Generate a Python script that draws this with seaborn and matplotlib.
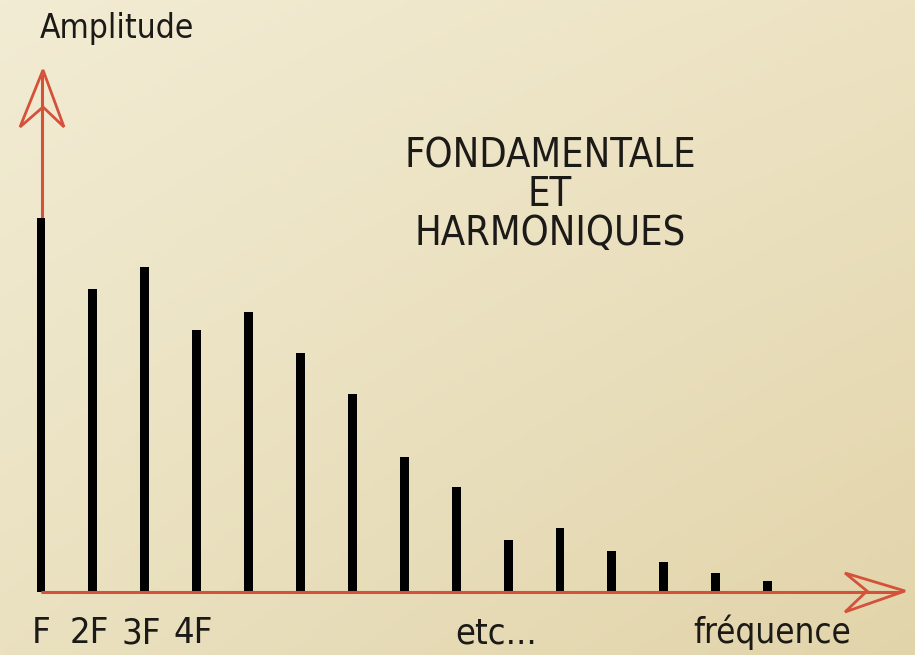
import numpy as np
import matplotlib
matplotlib.use('Agg')
import matplotlib.pyplot as plt
import matplotlib.patches as mpatches
import seaborn as sns

# Données : fondamentale et harmoniques (amplitude relative, F = 100)
harmoniques = ['F', '2F', '3F', '4F', '5F', '6F', '7F', '8F', '9F', '10F',
               '11F', '12F', '13F', '14F', '15F']
amplitude = [100, 81, 87, 70, 75, 64, 53, 36, 28, 14, 17, 11, 8, 5, 3]
etiquettes = ['F', '2F', '3F', '4F']

ROUGE = '#d4513a'
ENCRE = '#1b1a17'
W, H = 915, 655

# Echelles : 1 harmonique = 51.9 px, 100 d'amplitude = 374 px, base à y=592 px
pas_x = 51.9
pas_y = 3.74
x0 = -41 / pas_x
x1 = (W - 41) / pas_x
y0 = -(H - 592) / pas_y
y1 = 592 / pas_y


def px(x, y):
    # convertir une position en pixels (image) en coordonnées de données
    return (x0 + x / W * (x1 - x0), y1 - y / H * (y1 - y0))


fig = plt.figure(figsize=(9.15, 6.55), dpi=100)
ax = fig.add_axes([0, 0, 1, 1])

# fond papier jauni (ligne 0 = haut de l'image)
u = np.linspace(0, 1, 200)
v = np.linspace(0, 1, 200)
U, V = np.meshgrid(u, v)
tl = np.array([242, 236, 212]) / 255
tr = np.array([237, 227, 195]) / 255
bl = np.array([234, 225, 192]) / 255
br = np.array([226, 212, 170]) / 255
fond = ((1 - U)[..., None] * (1 - V)[..., None] * tl + U[..., None] * (1 - V)[..., None] * tr
        + (1 - U)[..., None] * V[..., None] * bl + U[..., None] * V[..., None] * br)
ax.imshow(fond, extent=[0, 1, 0, 1], transform=ax.transAxes, aspect='auto', zorder=0)

sns.barplot(x=harmoniques, y=amplitude, color='black', saturation=1,
            width=0.17, ax=ax, zorder=2)

ax.set_xlim(x0, x1)
ax.set_ylim(y0, y1)
ax.set_xticks([])
ax.set_yticks([])
ax.set_xlabel('')
ax.set_ylabel('')
for s in ax.spines.values():
    s.set_visible(False)

# axes fléchés
ax.plot(*zip(px(41, 592), px(900, 592)), color=ROUGE, lw=2.2, zorder=3, solid_capstyle='butt')
ax.plot(*zip(px(42, 592), px(42, 74)), color=ROUGE, lw=2.2, zorder=1, solid_capstyle='butt')
tete_y = [px(43, 70), px(20, 127), px(43, 107), px(64, 127)]
tete_x = [px(905, 591), px(845, 573), px(867, 591), px(845, 612)]
for pts in (tete_y, tete_x):
    ax.add_patch(mpatches.Polygon(pts, closed=True, fill=False, edgecolor=ROUGE,
                                  lw=2, zorder=3, joinstyle='miter'))

police = dict(family='DejaVu Sans', stretch='condensed', color=ENCRE)

ax.text(*px(40, 38), 'Amplitude', fontsize=24, ha='left', va='baseline', **police)

for ligne, yb in zip(['FONDAMENTALE', 'ET', 'HARMONIQUES'], [167, 206, 245]):
    ax.text(px(550, yb)[0], px(550, yb)[1], ligne, fontsize=28.5, ha='center',
            va='baseline', **police)

base_lab = px(0, 643)[1]
for i, lab in enumerate(etiquettes):
    ax.text(i - (0.07 if i else 0), base_lab, lab, fontsize=26, ha='center',
            va='baseline', **police)
ax.text(px(496, 643)[0], base_lab, 'etc...', fontsize=26, ha='center', va='baseline', **police)
ax.text(px(772, 643)[0], base_lab, 'fréquence', fontsize=25, ha='center', va='baseline', **police)

fig.savefig('out.png', dpi=100)
